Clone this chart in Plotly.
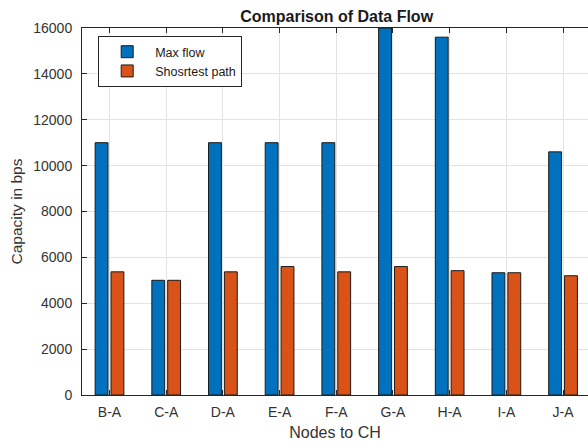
import plotly.graph_objects as go

categories = ["B-A", "C-A", "D-A", "E-A", "F-A", "G-A", "H-A", "I-A", "J-A"]
max_flow = [11000, 5000, 11000, 11000, 11000, 16000, 15600, 5330, 10600]
shortest_path = [5370, 5000, 5370, 5600, 5370, 5600, 5420, 5330, 5200]
y_ticks = [0, 2000, 4000, 6000, 8000, 10000, 12000, 14000, 16000]

fig = go.Figure()
fig.add_trace(go.Bar(x=categories, y=max_flow, name="Max flow",
                     marker=dict(color="#0072BD", line=dict(color="#1a1a1a", width=1))))
fig.add_trace(go.Bar(x=categories, y=shortest_path, name="Shosrtest path",
                     marker=dict(color="#D95319", line=dict(color="#1a1a1a", width=1))))

FAM = "Liberation Sans, Arial, sans-serif"
axis_font = dict(family=FAM, size=14, color="#333333")
fig.update_layout(
    width=588, height=442,
    margin=dict(l=82, r=0, t=28, b=47),
    paper_bgcolor="white", plot_bgcolor="white",
    barmode="group", bargap=0.44, bargroupgap=0.19,
    font=axis_font,
    title=dict(text="<b>Comparison of Data Flow</b>", x=0.5725, xanchor="center",
               y=0.962, yanchor="middle",
               font=dict(family=FAM, size=16, color="#1a1a1a")),
    showlegend=True,
    legend=dict(x=0.032, y=0.978, xanchor="left", yanchor="top",
                bgcolor="white", bordercolor="#262626", borderwidth=1,
                font=dict(family=FAM, size=12.5, color="#1a1a1a"),
                tracegroupgap=0, itemwidth=46),
    xaxis=dict(type="category", range=[-0.485, 8.44],
               showline=True, linecolor="#262626", linewidth=1, mirror="ticks",
               ticks="inside", ticklen=5, tickcolor="#262626",
               showgrid=True, gridcolor="#e3e3e3",
               ticklabelstandoff=4,
               title=dict(text="Nodes to CH", font=dict(family=FAM, size=16, color="#333333"), standoff=8),
               tickfont=axis_font),
    yaxis=dict(range=[0, 16000], tickvals=y_ticks, tickformat="d",
               showline=True, linecolor="#262626", linewidth=1,
               ticks="inside", ticklen=5, tickcolor="#262626",
               showgrid=True, gridcolor="#e3e3e3", zeroline=False,
               ticklabelstandoff=6,
               title=dict(text="Capacity in bps", font=dict(family=FAM, size=15.5, color="#333333"), standoff=6),
               tickfont=axis_font),
)

fig.write_html("out.html")
